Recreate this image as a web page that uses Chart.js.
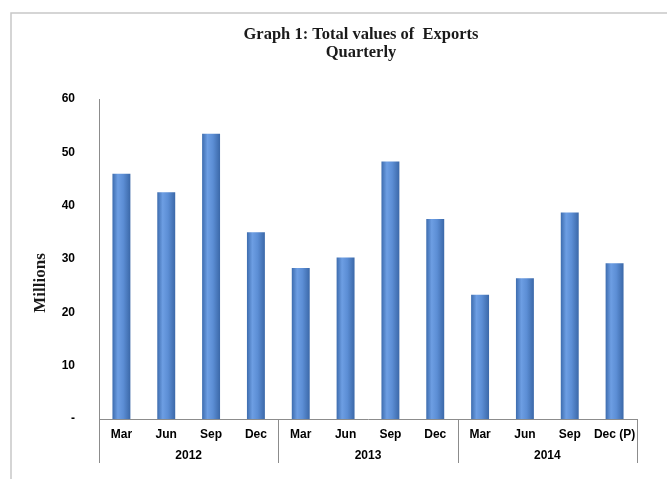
<!DOCTYPE html>
<html>
<head>
<meta charset="utf-8">
<script src="https://cdn.jsdelivr.net/npm/chart.js@4/dist/chart.umd.min.js"></script>
<style>
  html, body { margin: 0; padding: 0; background: #fff; }
  canvas { display: block; }
</style>
</head>
<body>
<canvas id="exportsChart" width="667" height="479"></canvas>
<script>
// --- data ---
const months = ['Mar', 'Jun', 'Sep', 'Dec', 'Mar', 'Jun', 'Sep', 'Dec', 'Mar', 'Jun', 'Sep', 'Dec (P)'];
const years = ['2012', '2013', '2014'];
const exportValues = [46.0, 42.5, 53.5, 35.0, 28.3, 30.3, 48.3, 37.5, 23.3, 26.4, 38.7, 29.2];
const yTicks = [0, 10, 20, 30, 40, 50, 60];

const titleLines = ['Graph 1: Total values of  Exports', 'Quarterly'];
const yTitle = 'Millions';

// gradient so the bars look like the rounded excel columns
function barFill(context) {
  const chart = context.chart;
  const xs = chart.scales.x;
  const plain = '#4f81bd';
  if (!xs || context.dataIndex === undefined) return plain;
  const cx = xs.getPixelForValue(context.dataIndex);
  const half = xs.width / months.length * 0.4 / 2;
  if (!isFinite(cx) || !isFinite(half) || half <= 0) return plain;
  const g = chart.ctx.createLinearGradient(cx - half, 0, cx + half, 0);
  g.addColorStop(0, '#3d6cae');
  g.addColorStop(0.3, '#6d9ee3');
  g.addColorStop(0.6, '#5c8ed5');
  g.addColorStop(1, '#3b68a8');
  return g;
}

const extras = {
  id: 'extras',
  beforeDraw(chart) {
    const ctx = chart.ctx;
    ctx.save();
    // outer frame of the excel chart
    ctx.strokeStyle = '#c8c8c8';
    ctx.lineWidth = 1.5;
    ctx.beginPath();
    ctx.moveTo(11, 479);
    ctx.lineTo(11, 13);
    ctx.lineTo(667, 13);
    ctx.stroke();
    ctx.restore();
  },
  afterDraw(chart) {
    const ctx = chart.ctx;
    const xs = chart.scales.x;
    const area = chart.chartArea;
    const step = xs.width / months.length;
    ctx.save();
    // title
    ctx.fillStyle = '#1a1a1a';
    ctx.font = 'bold 16.5px "Liberation Serif", serif';
    ctx.textAlign = 'center';
    ctx.textBaseline = 'middle';
    ctx.fillText(titleLines[0], 361, 35);
    ctx.fillText(titleLines[1], 361, 53);
    // y axis title
    ctx.save();
    ctx.translate(41, 283);
    ctx.rotate(-Math.PI / 2);
    ctx.font = 'bold 17px "Liberation Serif", serif';
    ctx.fillText(yTitle, 0, 0);
    ctx.restore();
    // year groups under the months
    ctx.strokeStyle = '#8c8c8c';
    ctx.lineWidth = 1;
    for (let i = 0; i <= months.length; i += 4) {
      const x = Math.round(area.left + i * step) + 0.5;
      ctx.beginPath();
      ctx.moveTo(x, area.bottom);
      ctx.lineTo(x, area.bottom + 44);
      ctx.stroke();
    }
    ctx.font = 'bold 12px "Liberation Sans", Arial, sans-serif';
    ctx.fillStyle = '#000';
    years.forEach((y, i) => {
      const cx = area.left + (i * 4 + 2) * step;
      ctx.fillText(y, cx, area.bottom + 37);
    });
    ctx.restore();
  }
};

const chart = new Chart(document.getElementById('exportsChart'), {
  type: 'bar',
  data: {
    labels: months,
    datasets: [{
      label: 'Exports',
      data: exportValues,
      backgroundColor: barFill,
      borderWidth: 0,
      barPercentage: 0.4,
      categoryPercentage: 1.0
    }]
  },
  options: {
    responsive: false,
    animation: false,
    layout: { padding: { left: 29, right: 30, top: 99, bottom: 0 } },
    plugins: {
      legend: { display: false },
      title: { display: false },
      tooltip: { enabled: false }
    },
    scales: {
      x: {
        grid: { display: false, drawTicks: false },
        border: { display: true, color: '#8c8c8c', width: 1 },
        ticks: {
          color: '#000',
          padding: 8,
          maxRotation: 0,
          autoSkip: false,
          font: { family: '"Liberation Sans", Arial, sans-serif', size: 12, weight: 'bold' }
        },
        afterFit(scale) { scale.height = 60; }
      },
      y: {
        min: 0,
        max: 60,
        afterBuildTicks(scale) { scale.ticks = yTicks.map(v => ({ value: v })); },
        grid: { display: false, drawTicks: false },
        border: { display: true, color: '#8c8c8c', width: 1 },
        ticks: {
          color: '#000',
          padding: 24,
          font: { family: '"Liberation Sans", Arial, sans-serif', size: 12, weight: 'bold' },
          callback: v => v === 0 ? '-' : v
        },
        afterFit(scale) { scale.width = 70; }
      }
    }
  },
  plugins: [extras]
});
// second pass so the gradients use the laid-out scale
chart.update('none');
</script>
</body>
</html>
